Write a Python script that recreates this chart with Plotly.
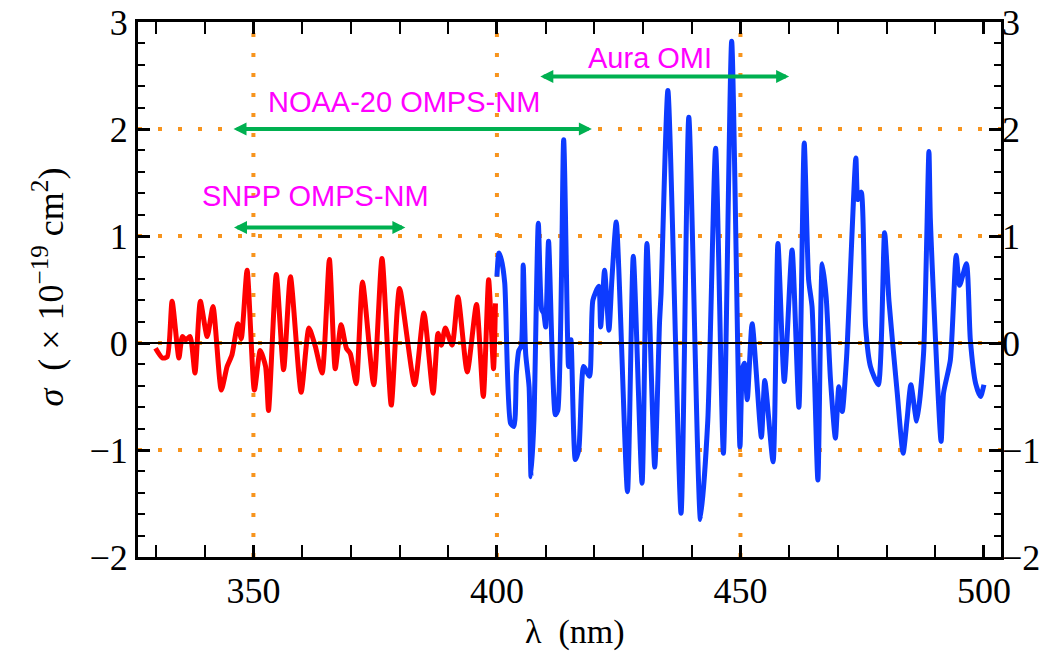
import plotly.graph_objects as go

# ---- data ----
red_x = [329.9, 331.3, 332.3, 333.3, 334.7, 335.4, 336.1, 337.0, 338.0, 339.1, 340.5, 341.7,
         343.4, 344.6, 345.6, 346.8, 347.5, 348.7, 350.2, 351.4, 352.5, 353.1, 354.7, 356.2,
         357.6, 359.8, 361.4, 362.7, 364.1, 365.6, 366.8, 368.0, 369.1, 369.9, 371.1, 372.4,
         374.7, 376.4, 378.3, 380.0, 383.1, 385.0, 386.9, 387.9, 388.6, 389.4, 390.8, 392.0,
         393.9, 395.8, 397.2, 398.3, 399.3, 399.7]
red_y = [-0.05, -0.14, -0.13, 0.39, -0.14, 0.06, 0.03, 0.06, -0.28, 0.39, 0.06, 0.34,
         -0.44, -0.22, -0.11, 0.18, 0.04, 0.68, -0.44, -0.07, -0.22, -0.63, 0.64, -0.25,
         0.62, -0.46, 0.14, -0.03, -0.28, 0.78, -0.24, 0.17, -0.05, -0.10, -0.38, 0.57,
         -0.39, 0.79, -0.58, 0.51, -0.39, 0.28, -0.47, 0.09, -0.02, 0.14, -0.02, 0.43,
         -0.27, 0.36, -0.50, 0.59, -0.24, 0.37]

blue_x = [400.0, 400.4, 400.9, 401.6, 402.8, 403.5, 404.0, 404.5, 405.0, 405.4, 405.9, 406.6,
          407.0, 407.6, 408.5, 409.2, 409.6, 410.0, 410.6, 412.0, 412.5, 413.7, 414.5, 414.7,
          415.2, 416.1, 416.8, 417.8, 419.0, 419.7, 420.9, 421.3, 422.1, 423.0, 423.6, 424.5,
          426.8, 428.0, 429.8, 430.8, 432.4, 433.4, 433.7, 435.1, 437.8, 439.4, 441.8, 443.3,
          444.9, 446.5, 448.2, 449.9, 450.4, 450.8, 451.4, 452.4, 454.3, 455.0, 456.7, 457.7,
          459.0, 460.6, 462.0, 463.1, 464.0, 464.7, 465.9, 466.8, 467.6, 468.5, 469.5, 470.2,
          470.9, 471.8, 473.7, 474.1, 474.8, 475.7, 476.7, 478.3, 479.6, 480.5, 482.2, 483.4,
          484.2, 485.0, 486.2, 487.6, 488.7, 489.0, 491.2, 491.7, 493.1, 494.3, 495.0, 496.4,
          497.2, 498.3, 499.3, 500.0]
blue_y = [0.62, 0.84, 0.78, 0.56, -0.75, -0.78, -0.28, -0.07, -0.03, 0.73, -0.10, -0.41,
          -1.25, -0.72, 1.12, 0.31, 0.28, 0.15, 0.95, -0.67, -0.63, 1.90, 0.06, -0.22,
          0.03, -1.09, -1.00, -0.22, -0.31, 0.40, 0.53, 0.15, 0.68, 0.12, 0.59, 1.13,
          -1.39, 0.81, -1.31, 0.93, -1.16, 0.21, 0.46, 2.36, -1.59, 2.11, -1.65, -0.72,
          1.82, -1.03, 2.82, -0.97, -0.25, -0.19, -0.53, 0.18, -0.88, -0.35, -1.11, 0.93,
          -0.36, 0.87, -0.60, 1.87, 0.59, 0.34, -1.28, 0.74, 0.43, -0.35, -0.89, -0.41,
          -0.64, -0.13, 1.73, 1.34, 1.41, 0.15, -0.22, -0.39, 1.03, 0.39, -0.47, -1.03,
          -0.72, -0.39, -0.73, -0.10, 1.79, 1.15, -0.92, -0.47, -0.16, 0.82, 0.54, 0.74,
          0.03, -0.38, -0.50, -0.39]

x_range = [326.3, 503.5]
y_range = [-2, 3]
y_ticks = [-2, -1, 0, 1, 2, 3]
grid_x = [350, 400, 450]
grid_y = [-1, 0, 1, 2]

# instrument ranges: (label, x_start, x_end, arrow_y, text_x, text_y)
instruments = [
    ("SNPP OMPS-NM", 345.7, 381.2, 1.08, 362.8, 1.37),
    ("NOAA-20 OMPS-NM", 345.6, 419.5, 2.0, 381.0, 2.25),
    ("Aura OMI", 408.6, 460.0, 2.49, 431.4, 2.66),
]

fig = go.Figure()
fig.add_trace(go.Scatter(x=red_x, y=red_y, mode="lines",
                         line=dict(color="#FF0000", width=5, shape="spline", smoothing=0.6),
                         showlegend=False))
fig.add_trace(go.Scatter(x=blue_x, y=blue_y, mode="lines",
                         line=dict(color="#0D3BFF", width=5, shape="spline", smoothing=0.6),
                         showlegend=False))
# zero line on top (also anchors right axis)
fig.add_trace(go.Scatter(x=x_range, y=[0, 0], mode="lines", yaxis="y2",
                         line=dict(color="black", width=2), showlegend=False,
                         hoverinfo="skip"))

orange = "#F7941D"
shapes = []
for gx in grid_x:
    shapes.append(dict(type="line", xref="x", yref="y", x0=gx, x1=gx, y0=y_range[0], y1=y_range[1],
                       line=dict(color=orange, width=4, dash="4px,16px"), layer="below"))
for gy in grid_y:
    shapes.append(dict(type="line", xref="x", yref="y", x0=x_range[0], x1=x_range[1], y0=gy, y1=gy,
                       line=dict(color=orange, width=4, dash="4px,16px"), layer="below"))

annotations = []
for label, xs, xe, ay, tx, ty in instruments:
    annotations.append(dict(x=xe, y=ay, ax=xs, ay=ay, xref="x", yref="y", axref="x", ayref="y",
                            text="", showarrow=True, arrowhead=2, startarrowhead=2,
                            arrowside="end+start", arrowsize=0.65, startarrowsize=0.65,
                            arrowwidth=4, arrowcolor="#00B050", standoff=0, startstandoff=0))
    annotations.append(dict(x=tx, y=ty, xref="x", yref="y", text=label, showarrow=False,
                            font=dict(family="Liberation Sans", size=29, color="#FF00FF"),
                            xanchor="center", yanchor="middle"))

annotations.append(dict(x=0.506, y=-0.14, xref="paper", yref="paper", showarrow=False,
                        text="λ&nbsp;&nbsp;(nm)", xanchor="center", yanchor="middle",
                        font=dict(family="Liberation Serif", size=34, color="black")))
annotations.append(dict(x=-0.104, y=0.504, xref="paper", yref="paper", showarrow=False,
                        text="<i>σ</i>&nbsp;&nbsp;(&nbsp;×&nbsp;10<sup>−19</sup>&nbsp;cm<sup>2</sup>)",
                        textangle=-90, xanchor="center", yanchor="middle",
                        font=dict(family="Liberation Serif", size=36, color="black")))

tick_font = dict(family="Liberation Serif", size=36, color="black")

# the page places the figure 8 px from the top-left corner, so margins are offset by 8 px
fig.update_layout(
    width=1054, height=655,
    margin=dict(l=130, r=61, t=14, b=106, autoexpand=False),
    paper_bgcolor="white", plot_bgcolor="white",
    shapes=shapes, annotations=annotations,
    xaxis=dict(range=x_range, tick0=350, dtick=50, ticks="inside", ticklen=12, tickwidth=2.5,
               tickcolor="black", showline=True, linewidth=3, linecolor="black", mirror="allticks",
               showgrid=False, zeroline=False, tickfont=tick_font, automargin=False,
               ticklabeloverflow="allow",
               minor=dict(dtick=10, tick0=350, ticks="inside", ticklen=7, tickwidth=2,
                          tickcolor="black", showgrid=False)),
    yaxis=dict(range=y_range, tickvals=y_ticks, ticks="inside", ticklen=12, tickwidth=2.5,
               tickcolor="black", showline=True, linewidth=3, linecolor="black", mirror="allticks",
               showgrid=False, zeroline=False, tickfont=tick_font, automargin=False,
               ticklabeloverflow="allow",
               minor=dict(dtick=0.2, tick0=0, ticks="inside", ticklen=7, tickwidth=2,
                          tickcolor="black", showgrid=False)),
    yaxis2=dict(range=y_range, tickvals=y_ticks, overlaying="y", side="right", anchor="x",
                ticks="", showline=False, showgrid=False, zeroline=False, tickfont=tick_font,
                automargin=False, ticklabeloverflow="allow"),
)

fig.write_html("out.html")
